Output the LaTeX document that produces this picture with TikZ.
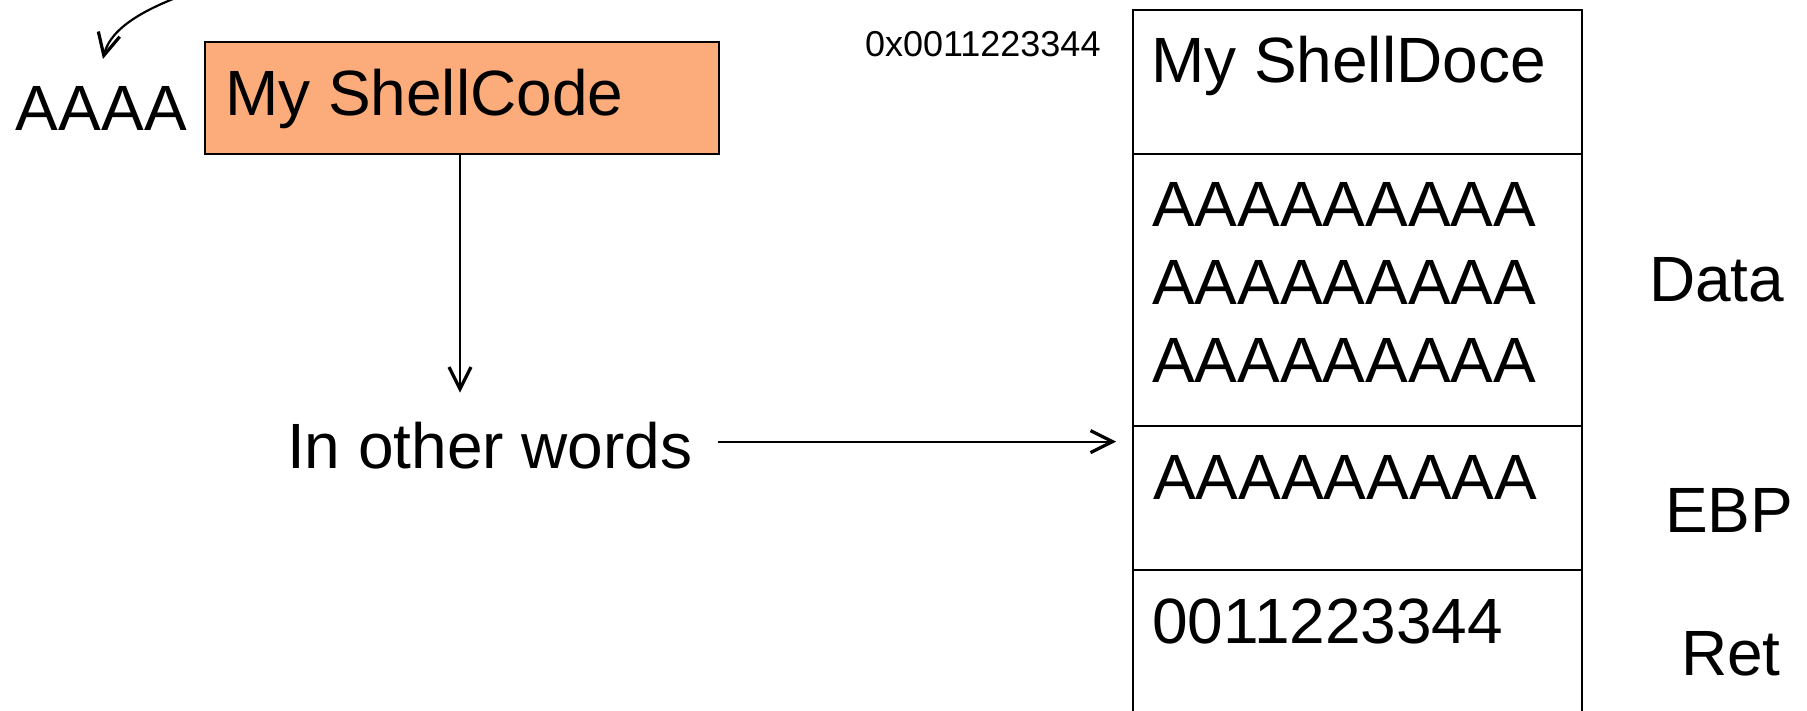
\documentclass[tikz,border=0pt]{standalone}
\usepackage{fontspec}
\setmainfont{Liberation Sans}
\usetikzlibrary{arrows.meta}
\definecolor{shellfill}{RGB}{252,172,122}
\begin{document}
\begin{tikzpicture}[x=0.5pt,y=-0.5pt,
  big/.style={font=\fontsize{32}{38}\selectfont, inner sep=0pt, outer sep=0pt, anchor=base west},
  small/.style={font=\fontsize{18}{22}\selectfont, inner sep=0pt, outer sep=0pt, anchor=base west},
  cell/.style={line width=0.7pt, minimum width=224.5pt, inner sep=0pt, outer sep=0pt},
  tip/.style={-{Straight Barb[length=11pt,width=11pt,line width=1.6pt]}},
]
\useasboundingbox (0,0) rectangle (1807,711);

% payload: padding and shellcode
\node[big] (aaaa) at (16,131) {AAAA};
\node[draw, line width=0.8pt, fill=shellfill, minimum width=257pt,
      minimum height=56pt, inner sep=0pt] (shell) at (462,98) {};
\node[big] (shelltxt) at (225,116) {My ShellCode};

\coordinate (cstart) at (178,-3);
\draw[line width=1.1pt, tip] (cstart) .. controls (150,8) and (111,26) ..
  ([xshift=0.8pt,yshift=14pt]aaaa.north);

\node[big] (iow) at (287,468) {In other words};

% stack layout
\node[cell, draw, minimum height=72pt]  (c1) at (1357.5,82)  {};
\node[cell, draw, minimum height=136pt] (c2) at (1357.5,290) {};
\node[cell, draw, minimum height=72pt]  (c3) at (1357.5,498) {};
\node[cell, minimum height=75pt]        (c4) at (1357.5,645) {};
\draw[line width=0.7pt] (c4.south west) -- (c4.north west) -- (c4.north east) -- (c4.south east);

\node[small] (addr) at (865,57) {0x0011223344};
\node[big] (s1) at (1151,83) {My ShellDoce};
\node[big] (d1) at (1152,227) {AAAAAAAAA};
\node[big] (d2) at (1152,304.5) {AAAAAAAAA};
\node[big] (d3) at (1152,382) {AAAAAAAAA};
\node[big] (e1) at (1153,499) {AAAAAAAAA};
\node[big] (r1) at (1152,643) {0011223344};

\node[big] (ldata) at (1649,301) {Data};
\node[big] (lebp) at (1665,532) {EBP};
\node[big] (lret) at (1681,675) {Ret};

% connectors
\draw[line width=0.75pt, tip, shorten >=14.5pt]
  ([xshift=-1pt]shell.south) -- ([xshift=-1pt]shell.south |- iow.north);
\draw[line width=1pt, tip, shorten >=8.5pt]
  ([xshift=12.5pt,yshift=1.75pt]iow.east) -- ([yshift=1.75pt]iow.east -| c3.west);
\end{tikzpicture}
\end{document}
